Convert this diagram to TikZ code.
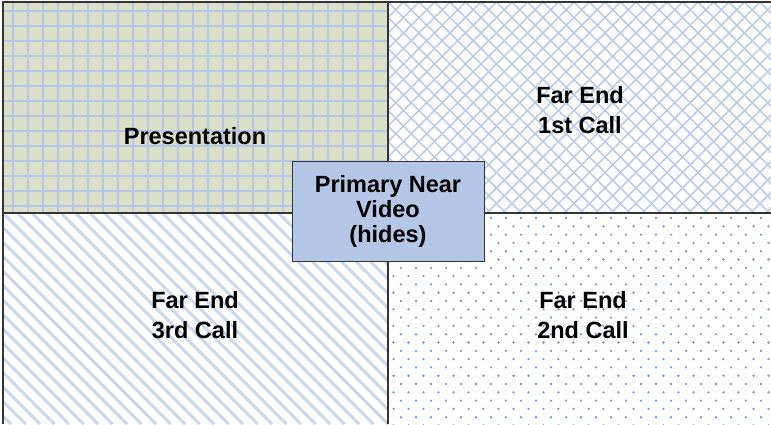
\documentclass[tikz,border=0pt]{standalone}
\usepackage{fontspec}
\setmainfont{Liberation Sans}
\usepackage{xcolor}
\usepackage{tikz}
\usetikzlibrary{positioning}
\definecolor{gridblue}{HTML}{B4C7E7}
\definecolor{dotblue}{HTML}{4F7FD0}
\definecolor{pale}{HTML}{DDE0C9}
\definecolor{boxfill}{HTML}{B4C7E7}
\definecolor{rulegray}{HTML}{333333}
\tikzset{
  frame/.style    = {draw=rulegray, line width=1.8pt},
  divider/.style  = {draw=rulegray, line width=1.1pt},
  gridln/.style   = {draw=gridblue, line width=2.2pt},
  hatchln/.style  = {draw=gridblue!90, line width=1.5pt},
  stripeln/.style = {draw=gridblue!70, line width=3pt},
  dotmark/.style  = {fill=dotblue!80},
  quadlbl/.style  = {font=\fontsize{23.5}{30}\selectfont\bfseries, align=center, inner sep=0pt},
  nearbox/.style  = {draw=rulegray, fill=boxfill, line width=1pt, minimum width=192pt, minimum height=100pt,
                     inner sep=0pt, font=\fontsize{23.5}{25}\selectfont\bfseries, align=center},
}

\begin{document}
\begin{tikzpicture}[x=1pt,y=-1pt]
  \useasboundingbox (0,0) rectangle (771,424);
  \fill[white] (0,0) rectangle (771,424);

  % ---------- Presentation (grid) ----------
  \fill[pale] (3,2) rectangle (388,213);
  \begin{scope}
    \clip (3,2) rectangle (388,213);
    \foreach \x in {0,...,25} {
      \draw[gridln] ({13.3+\x*15},2) -- ++(0,211);
    }
    \foreach \y in {0,...,13} {
      \draw[gridln] (3,{11+\y*15}) -- ++(385,0);
    }
  \end{scope}

  % ---------- 1st call (cross hatch) ----------
  \begin{scope}
    \clip (388,2) rectangle (771,213);
    \foreach \k in {-15,...,40} {
      \draw[hatchln] ({388+\k*15.5},2) -- ++(211,211);
      \draw[hatchln] ({388+\k*15.5},2) -- ++(-211,211);
    }
  \end{scope}

  % ---------- 3rd call (stripes) ----------
  \begin{scope}
    \clip (3,213) rectangle (388,424);
    \foreach \k in {-16,...,28} {
      \draw[stripeln] ({3+\k*14.5},213) -- ++(211,211);
    }
  \end{scope}

  % ---------- 2nd call (dots) ----------
  \begin{scope}
    \clip (388,213) rectangle (771,424);
    \foreach \r [evaluate=\r as \sh using {mod(\r,2)*7.5}] in {0,...,25} {
      \foreach \c in {0,...,26} {
        \fill[dotmark] ({386+\sh+\c*15},{218+\r*8.3}) circle (1.3pt);
      }
    }
  \end{scope}

  % frame and dividers
  \draw[divider] (388,2) -- (388,424);
  \draw[divider] (3,213) -- (771,213);
  \draw[frame] (3,424) -- (3,2) -- (771,2);

  % ---------- labels ----------
  \node[quadlbl] (presentation) at (195,136) {Presentation};
  \node[quadlbl] (farOne) at (580,110) {Far End\\1st Call};
  \node[quadlbl] (farThree) at (195,315) {Far End\\3rd Call};
  \node[quadlbl] (farTwo) at (583,315) {Far End\\2nd Call};

  % ---------- near video ----------
  \node[nearbox] (nearVideo) at (388,211) {Primary Near\\Video\\(hides)};
\end{tikzpicture}
\end{document}
